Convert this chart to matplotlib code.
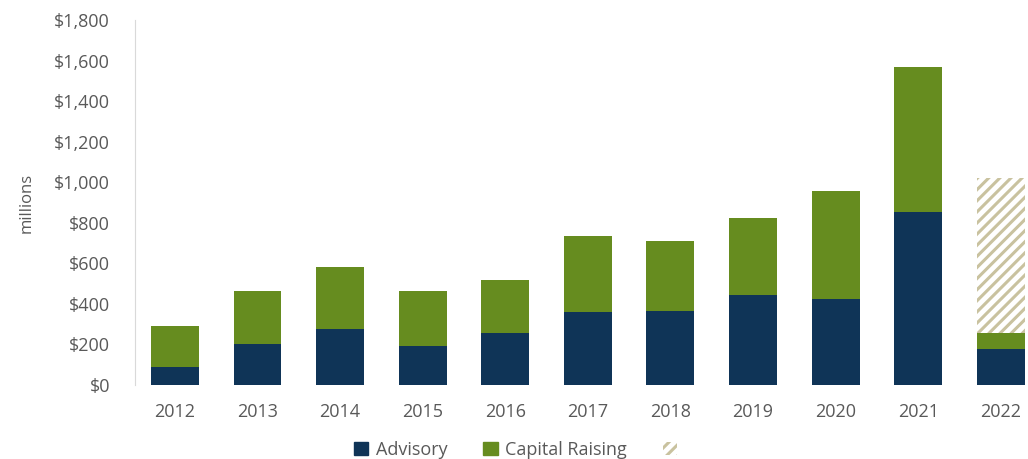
import matplotlib
matplotlib.use('Agg')
import matplotlib.pyplot as plt
import numpy as np
from matplotlib.patches import Patch

years = ['2012', '2013', '2014', '2015', '2016', '2017', '2018', '2019', '2020', '2021', '2022']
advisory = [90, 202, 276, 192, 256, 360, 365, 444, 424, 853, 177]
capital_raising = [200, 261, 306, 271, 262, 375, 345, 379, 532, 715, 79]
# projected remainder for 2022 (hatched)
projected = [0, 0, 0, 0, 0, 0, 0, 0, 0, 0, 764]

navy = '#0f3457'
green = '#668c1f'
tan = '#c9c29f'
grey = '#595959'

plt.rcParams['font.family'] = ['Open Sans', 'DejaVu Sans']
plt.rcParams['hatch.linewidth'] = 2.2

fig = plt.figure(figsize=(10.28, 4.59), dpi=100)
ax = fig.add_axes([135 / 1028, 74 / 459, 893 / 1028, 365 / 459])

x = np.arange(len(years))
w = 0.58
ax.bar(x, advisory, w, color=navy)
ax.bar(x, capital_raising, w, bottom=advisory, color=green)
base = np.array(advisory) + np.array(capital_raising)
ax.bar(x, projected, w, bottom=base, color='white', edgecolor=tan, hatch='///', linewidth=0)

ax.set_xlim(-0.484, 10.33)
ax.set_ylim(0, 1800)
ax.set_yticks(range(0, 1801, 200))
ax.set_yticklabels(['$' + format(v, ',') for v in range(0, 1801, 200)])
ax.set_xticks(x)
ax.set_xticklabels(years)
ax.tick_params(length=0, labelsize=13, colors=grey, pad=13)
ax.tick_params(axis='y', pad=18)
for s in ['top', 'right', 'bottom']:
    ax.spines[s].set_visible(False)
ax.spines['left'].set_color('#d9d9d9')
ax.set_ylabel('millions', fontsize=12, color=grey, labelpad=14)

handles = [Patch(color=navy, label='Advisory'),
           Patch(color=green, label='Capital Raising'),
           Patch(facecolor='white', edgecolor=tan, hatch='///', linewidth=0, label='')]
fig.legend(handles=handles, loc='lower center', bbox_to_anchor=(0.505, -0.035), ncol=3,
           frameon=False, fontsize=13, handlelength=0.8, handleheight=0.8,
           handletextpad=0.4, columnspacing=2.0, labelcolor=grey)

fig.savefig('out.png', dpi=100)
